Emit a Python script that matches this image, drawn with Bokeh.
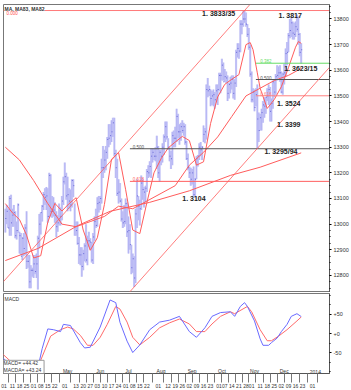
from bokeh.plotting import figure
from bokeh.models import (Range1d, FixedTicker, SingleIntervalTicker, Label,
                          CustomJSTickFormatter, ColumnDataSource)
from bokeh.layouts import column
from bokeh.embed import file_html
from bokeh.resources import INLINE
from bokeh.core.properties import value

# ---------------- data (EUR/USD daily bars, 2013-03-04 .. 2013-12-20) ----------------
highs = [1.3060,1.3075,1.3060,1.3110,1.3115, 1.3060,1.3075,1.3050,1.3010,1.3080,
         1.2970,1.2965,1.2950,1.2965,1.3000, 1.3050,1.2880,1.2880,1.2840,1.2830,
         1.2880,1.2880,1.2885,1.2955,1.3040, 1.3045,1.3075,1.3125,1.3140,1.3145,
         1.3140,1.3200,1.3195,1.3110,1.3105, 1.3085,1.3050,1.3035,1.3080,1.3065,
         1.3110,1.3185,1.3240,1.3200,1.3185, 1.3140,1.3135,1.3175,1.3175,1.3080,
         1.3010,1.3010,1.2950,1.2910,1.2910, 1.2900,1.2925,1.3000,1.2955,1.2970,
         1.2945,1.2930,1.2965,1.3030,1.3060, 1.3105,1.3110,1.3110,1.3255,1.3305,
         1.3290,1.3305,1.3340,1.3390,1.3390, 1.3405,1.3415,1.3415,1.3290,1.3255,
         1.3175,1.3160,1.3100,1.3050,1.3075, 1.3100,1.3085,1.3030,1.3000,1.2920,
         1.2885,1.2875,1.3060,1.3175,1.3110, 1.3095,1.3190,1.3175,1.3145,1.3150,
         1.3215,1.3230,1.3245,1.3295,1.3295, 1.3295,1.3300,1.3345,1.3305,1.3290,
         1.3290,1.3315,1.3350,1.3400,1.3400, 1.3335,1.3300,1.3285,1.3360,1.3365,
         1.3380,1.3450,1.3430,1.3390,1.3395, 1.3405,1.3395,1.3390,1.3325,1.3275,
         1.3225,1.3220,1.3215,1.3225,1.3180, 1.3265,1.3270,1.3315,1.3320,1.3305,
         1.3385,1.3375,1.3545,1.3570,1.3540, 1.3525,1.3520,1.3525,1.3515,1.3545,
         1.3545,1.3590,1.3590,1.3645,1.3630, 1.3605,1.3595,1.3580,1.3550,1.3575,
         1.3580,1.3580,1.3565,1.3680,1.3705, 1.3705,1.3795,1.3795,1.3830,1.3833,
         1.3825,1.3780,1.3765,1.3700,1.3595, 1.3530,1.3525,1.3530,1.3545,1.3435,
         1.3430,1.3450,1.3480,1.3495,1.3495, 1.3530,1.3545,1.3535,1.3490,1.3560,
         1.3560,1.3585,1.3620,1.3615,1.3620, 1.3595,1.3590,1.3625,1.3685,1.3710,
         1.3745,1.3800,1.3810,1.3790,1.3785, 1.3790,1.3817,1.3810,1.3745,1.3705]
lows = [1.2967,1.3000,1.2985,1.2955,1.2955, 1.2990,1.2990,1.2945,1.2940,1.2965,
        1.2885,1.2880,1.2860,1.2875,1.2880, 1.2825,1.2830,1.2750,1.2750,1.2795,
        1.2790,1.2805,1.2790,1.2745,1.2905, 1.2960,1.3010,1.3055,1.3075,1.3055,
        1.3005,1.3025,1.3030,1.3025,1.3030, 1.3005,1.2950,1.2970,1.2995,1.2995,
        1.3015,1.3075,1.3155,1.3095,1.3050, 1.3060,1.3050,1.3065,1.3105,1.2955,
        1.2955,1.2920,1.2845,1.2840,1.2795, 1.2820,1.2855,1.2850,1.2840,1.2910,
        1.2900,1.2850,1.2845,1.2935,1.2985, 1.2990,1.3045,1.3055,1.3080,1.3180,
        1.3200,1.3210,1.3255,1.3300,1.3310, 1.3320,1.3340,1.3265,1.3180,1.3110,
        1.3080,1.3085,1.3010,1.2985,1.2990, 1.3000,1.2950,1.2885,1.2900,1.2805,
        1.2810,1.2755,1.2770,1.2985,1.3015, 1.2995,1.3055,1.3095,1.3065,1.3085,
        1.3125,1.3180,1.3185,1.3180,1.3240, 1.3250,1.3245,1.3215,1.3180,1.3165,
        1.3230,1.3240,1.3270,1.3320,1.3330, 1.3290,1.3245,1.3215,1.3230,1.3300,
        1.3300,1.3320,1.3335,1.3310,1.3325, 1.3355,1.3345,1.3310,1.3250,1.3210,
        1.3180,1.3150,1.3155,1.3110,1.3104, 1.3175,1.3225,1.3250,1.3265,1.3250,
        1.3320,1.3315,1.3330,1.3495,1.3500, 1.3460,1.3465,1.3460,1.3450,1.3475,
        1.3465,1.3520,1.3510,1.3560,1.3560, 1.3555,1.3550,1.3480,1.3490,1.3510,
        1.3525,1.3490,1.3485,1.3535,1.3650, 1.3645,1.3670,1.3740,1.3770,1.3785,
        1.3770,1.3730,1.3680,1.3575,1.3475, 1.3475,1.3440,1.3460,1.3295,1.3320,
        1.3365,1.3365,1.3395,1.3415,1.3430, 1.3480,1.3465,1.3400,1.3400,1.3450,
        1.3495,1.3505,1.3560,1.3570,1.3555, 1.3510,1.3505,1.3545,1.3575,1.3620,
        1.3670,1.3725,1.3730,1.3720,1.3720, 1.3730,1.3750,1.3700,1.3655,1.3625]
closes = [1.3022,1.3050,1.2985,1.3100,1.3005, 1.3035,1.3045,1.2955,1.2975,1.3075,
          1.2955,1.2875,1.2945,1.2905,1.2985, 1.2855,1.2855,1.2775,1.2820,1.2820,
          1.2845,1.2815,1.2845,1.2945,1.3000, 1.3045,1.3070,1.3115,1.3105,1.3110,
          1.3030,1.3190,1.3050,1.3050,1.3055, 1.3035,1.2990,1.3005,1.3015,1.3030,
          1.3090,1.3165,1.3185,1.3110,1.3115, 1.3090,1.3075,1.3170,1.3150,1.2990,
          1.2975,1.2925,1.2880,1.2880,1.2835, 1.2885,1.2915,1.2860,1.2935,1.2935,
          1.2930,1.2860,1.2950,1.3010,1.2995, 1.3080,1.3085,1.3100,1.3220,1.3220,
          1.3250,1.3280,1.3330,1.3335,1.3345, 1.3360,1.3395,1.3275,1.3220,1.3120,
          1.3125,1.3090,1.3020,1.3005,1.3010, 1.3080,1.2970,1.2975,1.2920,1.2830,
          1.2865,1.2790,1.3040,1.3110,1.3070, 1.3060,1.3160,1.3135,1.3125,1.3140,
          1.3205,1.3200,1.3225,1.3265,1.3280, 1.3265,1.3265,1.3300,1.3200,1.3280,
          1.3265,1.3300,1.3340,1.3380,1.3340, 1.3300,1.3265,1.3255,1.3345,1.3335,
          1.3335,1.3420,1.3360,1.3360,1.3380, 1.3365,1.3380,1.3320,1.3255,1.3220,
          1.3200,1.3175,1.3200,1.3115,1.3175, 1.3255,1.3265,1.3300,1.3290,1.3300,
          1.3350,1.3360,1.3525,1.3520,1.3525, 1.3490,1.3500,1.3505,1.3485,1.3520,
          1.3525,1.3580,1.3580,1.3620,1.3555, 1.3575,1.3570,1.3510,1.3545,1.3550,
          1.3565,1.3510,1.3550,1.3670,1.3685, 1.3675,1.3780,1.3780,1.3800,1.3800,
          1.3780,1.3740,1.3690,1.3585,1.3485, 1.3515,1.3455,1.3505,1.3410,1.3365,
          1.3415,1.3435,1.3465,1.3460,1.3495, 1.3500,1.3525,1.3440,1.3470,1.3555,
          1.3515,1.3575,1.3580,1.3590,1.3590, 1.3515,1.3585,1.3590,1.3665,1.3670,
          1.3735,1.3755,1.3785,1.3745,1.3740, 1.3770,1.3760,1.3740,1.3670,1.3680]

# moving averages (bar index, price)
fast_idx = [0,5,10,15,20,25,30,35,40,45,50,55,60,65,70,75,80,85,90,95,100,105,110,
            115,120,125,130,135,140,145,150,155,160,165,170,173,175,178,180,185,190,
            195,200,205,207,209]
fast_val = [1.3080,1.3044,1.3018,1.2957,1.2868,1.2877,1.3008,1.3081,1.3051,1.3080,
            1.3103,1.2977,1.2898,1.2947,1.3077,1.3253,1.3279,1.3134,1.2977,1.2963,
            1.3084,1.3200,1.3255,1.3297,1.3320,1.3342,1.3326,1.3230,1.3243,1.3393,
            1.3496,1.3545,1.3565,1.3583,1.3700,1.3708,1.3680,1.3590,1.3530,1.3451,
            1.3486,1.3536,1.3610,1.3690,1.3712,1.3705]
mid_idx = [0,10,20,30,40,50,60,70,80,90,100,110,120,130,140,150,160,170,180,190,200,209]
mid_val = [1.3300,1.3250,1.3170,1.3080,1.3000,1.2990,1.3010,1.3030,1.3070,1.3060,
           1.3090,1.3120,1.3150,1.3230,1.3280,1.3340,1.3420,1.3500,1.3530,1.3560,
           1.3580,1.3607]
slow_idx = [0,23,51,74,102,130,159,180,209]
slow_val = [1.2858,1.2905,1.2994,1.3050,1.3085,1.3130,1.3190,1.3222,1.3278]

# MACD (pips)
macd_idx = [-3,4,11,18,23,26,30,34,39,41,46,53,56,60,67,74,78,81,86,90,95,102,109,
            116,123,130,135,141,146,152,159,162,166,169,171,176,180,182,186,188,192,
            195,199,202,206,209]
macd_val = [-60,-83,-95,-100,-90,-40,12,10,5,24,21,-24,-38,-36,17,88,81,29,-20,-50,
            -30,10,30,35,45,5,-10,15,45,55,57,45,71,81,71,33,-14,-31,-31,-24,-12,5,24,
            45,52,44.42]
sig_idx = [-3,4,11,18,25,32,39,44,48,53,58,62,67,72,78,81,86,90,95,102,109,116,123,
           130,135,141,146,152,159,162,171,174,180,185,188,193,199,206,209]
sig_val = [-50,-74,-90,-95,-70,-7,10,17,12,-5,-31,-31,-10,24,71,64,30,-10,-30,-10,15,
           28,38,25,5,5,25,45,57,52,71,57,10,-19,-19,-7,10,33,43.24]

# axis labels
day_idx = [-1,5,10,15,20,25,30,35,42,50,55,60,65,70,75,80,85,90,95,100,108,115,120,
           125,130,135,140,145,151,155,160,165,170,174,180,185,190,195,200,205,210,217]
day_lbl = ["01","11","18","25","01","08","15","22","01","13","20","27","03","10","17",
           "24","01","08","15","22","01","12","19","26","02","09","16","23","01","07",
           "14","21","28","01","11","18","25","02","09","16","23","01"]
month_idx = [42,65,85,108,130,151,174,195,217]
month_lbl = ["May","Jun","Jul","Aug","Sep","Oct","Nov","Dec","2014"]

# price annotations
ann_price = [1.3833, 1.3817, 1.3623, 1.3524, 1.3399, 1.3295, 1.3104]
ann_text = ["1. 3833/35", "1. 3817", "1. 3623/15", "1. 3524", "1. 3399", "1. 3295/94", "1. 3104"]

fib_ratios_recent = [0.382, 0.5, 0.618]
fib_ratios_swing = [0.5, 0.618]

# ---------------- layout constants ----------------
X0, X1 = -1.3, 229.0
P0, P1 = 1.27334, 1.38565
M0, M1 = -105.0, 105.0
ANN_X = [139, 193, 197, 192, 192, 183, 125]      # text anchor (bar index)
ANN_DY = [3, 1, 4, 14, 3, 3, 1]                   # pixel offsets below the level
BAR_LIGHT = "#cdcdf8"
BAR_DARK = "#9c9cef"
RED = "#ff5c5c"
FONT = "Liberation Sans"

xr = Range1d(X0, X1)
idx = list(range(len(highs)))

p = figure(width=351, height=292, x_range=xr, y_range=Range1d(P0, P1),
           output_backend="svg", toolbar_location=None,
           min_border_left=3, min_border_right=21, min_border_top=4, min_border_bottom=0,
           x_axis_location=None, y_axis_location="right")
p.grid.visible = False
p.outline_line_color = "#777777"
p.background_fill_color = "white"
ya = p.yaxis[0]
ya.ticker = SingleIntervalTicker(interval=0.01, num_minor_ticks=4)
ya.formatter = CustomJSTickFormatter(code="return (tick*10000).toFixed(0);")
ya.major_label_text_font_size = "5.5px"
ya.major_label_text_color = "#333333"
ya.major_label_text_font = FONT
ya.major_tick_out = 2
ya.major_tick_in = 0
ya.minor_tick_out = 1
ya.minor_tick_in = 0
ya.major_label_standoff = 2
ya.axis_line_color = "#555555"

src = ColumnDataSource(dict(x=idx, h=highs, l=lows, c=closes,
                            xc=[i + 0.7 for i in idx]))
p.segment('x', 'l', 'x', 'h', source=src, line_color=BAR_LIGHT, line_width=2.2)
p.segment('x', 'l', 'x', 'h', source=src, line_color=BAR_DARK, line_width=0.7, line_alpha=0.7)
p.segment('x', 'c', 'xc', 'c', source=src, line_color="#6a6ad8", line_width=1)

# moving averages
p.line(slow_idx, slow_val, line_color=RED, line_width=1)
p.line(mid_idx, mid_val, line_color=RED, line_width=1)
p.line(fast_idx, fast_val, line_color=RED, line_width=1)

# fibonacci levels
top = max(highs)
i_top = highs.index(top)
low_recent = min(lows[150:])
i_low_recent = lows.index(low_recent)
low_swing = min(lows[80:])
i_low_swing = lows.index(low_swing)
p.segment([X0], [top], [X1], [top], line_color="#ff7a7a", line_width=1)
rec_cols = ["#66dd66", "#555555", "#ff8080"]
for r, col in zip(fib_ratios_recent, rec_cols):
    lv = top - r * (top - low_recent)
    p.segment([i_low_recent - 1], [lv], [X1], [lv], line_color=col, line_width=1)
    p.text([i_low_recent + 2], [lv], text=["%.3f" % r], text_font_size=value("4.5px"),
           text_color=col, text_baseline="bottom", text_font=value(FONT))
sw_cols = ["#555555", "#ff6060"]
for r, col in zip(fib_ratios_swing, sw_cols):
    lv = top - r * (top - low_swing)
    p.segment([i_low_swing - 3], [lv], [X1], [lv], line_color=col, line_width=1)
    p.text([i_low_swing - 1], [lv], text=["%.3f" % r], text_font_size=value("4.5px"),
           text_color=col, text_baseline="bottom", text_font=value(FONT))

# trend channel
slope = (low_recent - low_swing) / (i_low_recent - i_low_swing)
xs_low = [i_low_swing - 3, X1]
p.line(xs_low, [low_swing + slope * (x - i_low_swing) for x in xs_low], line_color=RED, line_width=0.8)
x_exit = i_top + (P1 - top) / slope
xs_up = [X0, x_exit]
p.line(xs_up, [top + slope * (x - i_top) for x in xs_up], line_color=RED, line_width=0.8)

# annotations
for xa, pr, tx, dy in zip(ANN_X, ann_price, ann_text, ANN_DY):
    p.text([xa], [pr], text=[tx], text_font=value(FONT), text_font_size=value("7px"),
           text_font_style="bold", text_color="#222222", text_baseline="middle", y_offset=dy)

# header
p.add_layout(Label(x=X0, y=P1, text="MA, MA83, MA82", text_font_size="5px", text_font=FONT,
                   text_font_style="bold", text_color="#333333", text_baseline="top",
                   background_fill_color="white", x_offset=1, y_offset=-1))
p.add_layout(Label(x=X0, y=top, text="0.000", text_font_size="4.5px", text_font=FONT,
                   text_color="#ff5050", text_baseline="top", x_offset=3))

# right value boxes
boxes = [(fast_val[-1], "#ff2020"), (closes[-1], "#1a1aff"), (mid_val[-1], "#ff2020"),
         (slow_val[-1], "#ff2020")]
for v, col in boxes:
    p.add_layout(Label(x=X1, y=v, text="%.0f" % (v * 10000), text_font_size="5.5px",
                       text_font=FONT, text_color="white", background_fill_color=col,
                       text_baseline="middle", text_align="left", x_offset=1))

# ---------------- MACD panel ----------------
m = figure(width=351, height=98, x_range=xr, y_range=Range1d(M0, M1),
           output_backend="svg", toolbar_location=None,
           min_border_left=3, min_border_right=21, min_border_top=1, min_border_bottom=0,
           y_axis_location="right")
m.grid.visible = False
m.outline_line_color = "#777777"
my = m.yaxis[0]
my.ticker = FixedTicker(ticks=[-50, 0, 50], minor_ticks=[-100, -75, -25, 25, 75, 100])
my.formatter = CustomJSTickFormatter(code="return tick >= 0 ? '+' + tick : '' + tick;")
my.major_label_text_font_size = "5.5px"
my.major_label_text_font = FONT
my.major_label_text_color = "#333333"
my.major_tick_out = 2
my.minor_tick_out = 1
my.major_tick_in = 0
my.minor_tick_in = 0
my.major_label_standoff = 2
my.axis_line_color = "#555555"

mx = m.xaxis[0]
seps = [day_idx[0] - 2.5] + [(a + b) / 2 for a, b in zip(day_idx[:-1], day_idx[1:])] + [day_idx[-1] + 3.5]
mx.ticker = FixedTicker(ticks=day_idx, minor_ticks=seps)
mx.major_label_overrides = {i: s for i, s in zip(day_idx, day_lbl)}
mx.major_label_text_font_size = "5px"
mx.major_label_text_font = FONT
mx.major_label_text_color = "#333333"
mx.major_tick_out = 0
mx.major_tick_in = 0
mx.minor_tick_out = 9
mx.minor_tick_in = 0
mx.minor_tick_line_color = "#777777"
mx.major_label_standoff = 1
mx.axis_line_color = "#555555"

m.line(sig_idx, sig_val, line_color="#ff6a6a", line_width=1)
m.line(macd_idx, macd_val, line_color="#6a6aff", line_width=1)
m.text([i + 2 for i in month_idx], [M0] * len(month_idx), text=month_lbl,
       text_font=value(FONT), text_font_size=value("5px"), text_color="#333333",
       text_align="center", text_baseline="bottom", y_offset=0)

m.add_layout(Label(x=X0, y=M1, text="MACD", text_font_size="5px", text_font=FONT,
                   text_color="#333333", text_baseline="top", x_offset=1, y_offset=-2))
m.add_layout(Label(x=X0, y=M0, text="MACD=     +%.2f\nMACDA=   +%.2f" % (macd_val[-1], sig_val[-1]),
                   text_font_size="5px", text_font=FONT, text_color="#333333",
                   text_baseline="bottom", background_fill_color="white",
                   border_line_color="#999999", x_offset=0, y_offset=0))
m.add_layout(Label(x=X1, y=macd_val[-1], text="+%.2f" % macd_val[-1], text_font_size="5.5px",
                   text_font=FONT, text_color="white", background_fill_color="#1a1aff",
                   text_baseline="middle", text_align="left", x_offset=1))
m.add_layout(Label(x=X1, y=M0, text="\u271a", text_font_size="7px", text_color="#ff2020",
                   text_baseline="top", text_align="left", x_offset=14, y_offset=-2))

layout = column(p, m, spacing=0)
open("out.html", "w").write(file_html(layout, INLINE))
